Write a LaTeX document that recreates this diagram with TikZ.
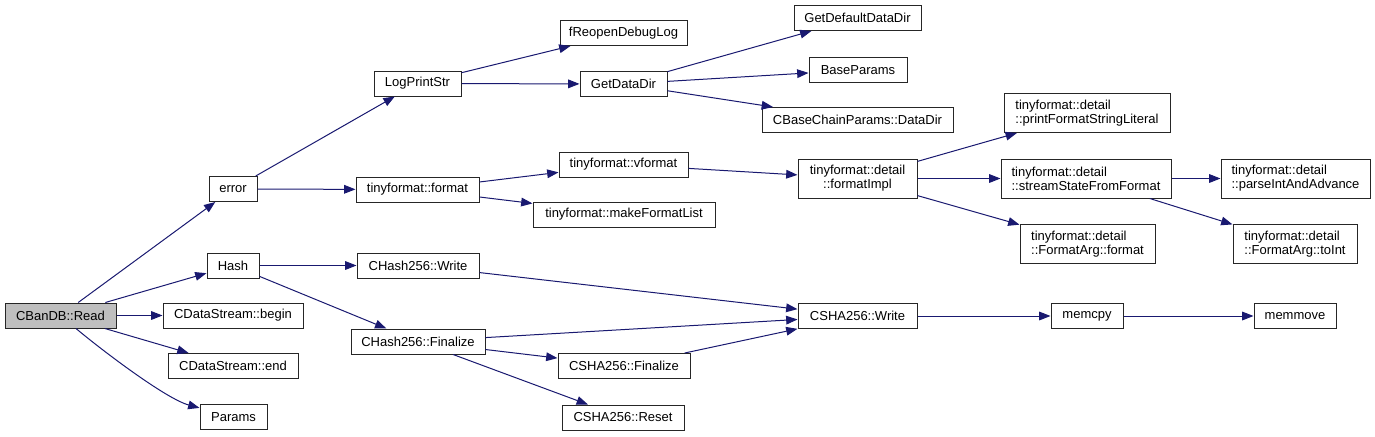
\documentclass[tikz,border=0pt]{standalone}
\usepackage{fontspec}
\setmainfont{Liberation Sans}
\usetikzlibrary{arrows.meta}
\definecolor{edge}{HTML}{191970}
\definecolor{rootfill}{HTML}{BFBFBF}

\begin{document}
\begin{tikzpicture}[x=0.75pt,y=-0.75pt,font=\fontsize{9.75}{10.5}\selectfont,
  fn/.style={draw=black!85,line width=0.75pt,fill=white,inner xsep=3pt,inner ysep=1pt,minimum height=18.75pt},
  fn2/.style={fn,align=left,minimum height=29.25pt},
  root/.style={fn,fill=rootfill},
  call/.style={draw=edge,line width=0.75pt,-{Triangle[length=8.5pt,width=6.5pt]}}]
\useasboundingbox (0,0) rectangle (1375,436);
\node[root,minimum width=111*0.75pt] (read) at (60.5,315.5) {CBanDB::Read};
\foreach \x/\y/\n/\w/\t in {233/189/error/48/error,233/265.5/hash/52/Hash,
  233/315.5/dsbegin/140/CDataStream::begin,233/366/dsend/130/CDataStream::end,
  233.5/417/params/67/Params,417.5/83.5/logprint/87/LogPrintStr,
  417.5/189.5/tfformat/123/tinyformat::format,418/265.5/chwrite/122/CHash256::Write,
  418/341.5/chfinal/134/CHash256::Finalize,623.5/33/reopen/127/fReopenDebugLog,
  623.5/84/datadir/87/GetDataDir,623.5/164.5/vformat/129/tinyformat::vformat,
  624/214.5/mkfmtlist/182/tinyformat::makeFormatList,624/366/shafinal/132/CSHA256::Finalize,
  623/417.5/shareset/122/CSHA256::Reset,857.5/18/defdatadir/127/GetDefaultDataDir,
  858/70/baseparams/98/BaseParams,857.5/120/chaindatadir/191/CBaseChainParams::DataDir,
  857.5/316/shawrite/119/CSHA256::Write,1087/316/memcpy/72/memcpy,1295/316/memmove/82/memmove}
  \node[fn,minimum width=\w*0.75pt] (\n) at (\x,\y) {\t};
% two-line detail nodes
\node[fn2,align=center,minimum width=119*0.75pt] (fmtimpl) at (857.5,178.5) {tinyformat::detail\\::formatImpl};
\foreach \x/\y/\n/\w/\t in {1087/113/printlit/166/::printFormatStringLiteral,
  1086/178.5/ssfmt/170/::streamStateFromFormat,1087.5/244/argfmt/135/::FormatArg::format,
  1295.5/178.5/parseint/149/::parseIntAndAdvance,1295/244/toint/124/::FormatArg::toInt}
  \node[fn2,minimum width=\w*0.75pt] (\n) at (\x,\y) {tinyformat::detail\\\t};
\foreach \a/\b in {read/error,read/hash,read/dsbegin,read/dsend,error/logprint,error/tfformat,
  logprint/reopen,logprint/datadir,datadir/defdatadir,datadir/baseparams,datadir/chaindatadir,
  tfformat/vformat,tfformat/mkfmtlist,vformat/fmtimpl,fmtimpl/printlit,fmtimpl/ssfmt,fmtimpl/argfmt,
  ssfmt/parseint,ssfmt/toint,hash/chwrite,hash/chfinal,chwrite/shawrite,chfinal/shawrite,
  chfinal/shafinal,chfinal/shareset,shafinal/shawrite,shawrite/memcpy,memcpy/memmove}
  \draw[call] (\a) -- (\b);
\draw[call] (read) to[out=-40,in=165,looseness=0.6] (params);
\end{tikzpicture}
\end{document}
